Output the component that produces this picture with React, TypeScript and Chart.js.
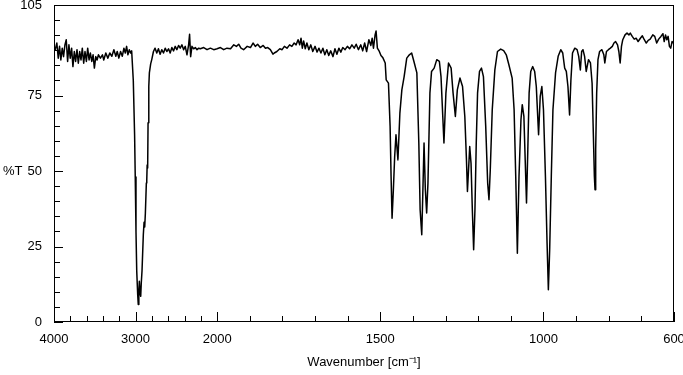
import React, { useEffect, useRef } from "react";
import { Chart, LineController, LineElement, PointElement, LinearScale } from "chart.js";

// ---- data (wavenumber in cm-1, transmittance in %T) ----
const WAVENUMBERS = [
  4000, 3985, 3965, 3948, 3932, 3916, 3899, 3883, 3866, 3850, 3833, 3817, 3801, 3784, 3768, 3751,
  3735, 3718, 3702, 3685, 3669, 3653, 3636, 3620, 3603, 3587, 3570, 3554, 3537, 3521, 3505, 3488,
  3472, 3455, 3431, 3406, 3390, 3365, 3340, 3316, 3291, 3266, 3242, 3225, 3205, 3184, 3163, 3143,
  3126, 3110, 3094, 3077, 3061, 3048,
  3028, 3012, 3004, 2995, 2986, 2974, 2967, 2960, 2954, 2945, 2937, 2930, 2921, 2905, 2896, 2888, 2880,
  2868, 2863, 2858, 2852, 2847, 2838, 2831, 2815, 2801,
  2781, 2761, 2740, 2720, 2699, 2679, 2658, 2637, 2617, 2596, 2576, 2555, 2535, 2514, 2494, 2473,
  2453, 2432, 2411, 2391, 2370, 2350, 2338, 2325, 2309, 2288, 2268, 2247, 2226, 2206, 2165, 2124,
  2083, 2042, 2001, 1990, 1980, 1970, 1959, 1949, 1941, 1934, 1927, 1919, 1908, 1898,
  1890, 1883, 1876, 1868, 1859, 1852, 1845, 1837, 1829, 1825, 1817, 1808, 1801, 1794, 1786, 1778,
  1771, 1764, 1758, 1752, 1747, 1743, 1739, 1735, 1730, 1725, 1719, 1713, 1707, 1700, 1694, 1688,
  1682, 1676, 1670, 1664, 1658, 1652, 1645, 1639, 1633, 1627, 1621, 1615, 1608, 1601, 1594, 1587,
  1580, 1574, 1567, 1560, 1554, 1548, 1542, 1535, 1529, 1525, 1521, 1516, 1513, 1509, 1503, 1498,
  1492, 1485, 1482, 1475, 1470, 1467, 1464, 1460, 1456, 1452, 1446, 1440, 1434, 1427, 1419, 1411,
  1404, 1397, 1388, 1382, 1378, 1373, 1370, 1366, 1362, 1358, 1354, 1348, 1343, 1335, 1327, 1319,
  1314, 1305, 1299, 1291, 1283, 1277, 1270, 1264, 1256, 1248, 1241, 1236, 1233, 1226, 1222, 1218,
  1214, 1210, 1206, 1202, 1196, 1190, 1184, 1177, 1171, 1167, 1163, 1157, 1149, 1141, 1131, 1122,
  1114, 1106, 1096, 1090, 1085, 1080, 1075, 1069, 1065, 1060, 1056, 1052, 1048, 1044, 1039, 1033,
  1027, 1022, 1015, 1010, 1005, 1000, 994, 989, 985, 981, 976, 971, 963, 955, 947, 941,
  935, 930, 925, 920, 916, 911, 904, 897, 892, 887, 883, 879, 874, 869, 862, 856,
  851, 847, 844, 842, 840, 837, 833, 828, 821, 815, 812, 807, 801, 795, 789, 784,
  779, 773, 769, 765, 761, 757, 750, 744, 738, 734, 728, 722, 716, 710, 703, 697,
  691, 685, 679, 673, 665, 659, 653, 647, 640, 634, 630, 626, 622, 618, 614, 610,
  606, 602, 600,
];

const TRANSMITTANCE = [
  90.0, 90.2, 92.4, 87.4, 91.3, 86.8, 90.7, 87.9, 91.8, 93.5, 86.3, 91.8, 87.4, 90.7, 84.6, 89.6,
  86.3, 90.2, 85.7, 89.6, 86.8, 90.7, 85.7, 89.6, 86.3, 90.7, 86.8, 89.1, 86.3, 88.5, 84.1, 87.9,
  86.8, 88.5, 87.4, 88.5, 86.8, 89.1, 87.4, 89.1, 88.0, 90.2, 88.0, 89.6, 87.4, 89.6, 88.0, 90.7,
  89.1, 91.3, 88.5, 90.2, 89.1, 89.8,
  80.0, 62.0, 48.0, 30.0, 17.0, 9.0, 5.8, 10.0, 13.5, 9.5, 8.5, 13.0, 17.0, 29.0, 33.0, 31.5, 36.0,
  46.0, 47.0, 52.0, 51.0, 66.0, 78.0, 82.5, 85.5, 87.0,
  89.6, 90.7, 89.1, 90.5, 88.7, 90.2, 89.1, 90.7, 89.6, 90.5, 89.1, 90.9, 89.8, 91.3, 90.2, 91.6,
  90.7, 91.8, 90.2, 91.3, 88.5, 91.8, 95.3, 87.9, 91.3, 90.5, 90.9, 90.2, 90.7, 90.5, 90.9, 90.2,
  90.7, 90.2, 90.5, 90.9, 90.2, 90.7, 90.5, 91.8, 91.3, 92.0, 90.7, 90.2, 91.3, 90.9,
  92.4, 91.3, 92.0, 90.9, 91.6, 90.7, 90.9, 90.2, 88.7, 89.1, 89.6, 90.5, 90.2, 91.3, 90.7, 91.8,
  91.3, 92.4, 91.8, 93.5, 91.8, 94.0, 90.7, 93.1, 90.5, 92.4, 90.2, 91.8, 89.6, 91.3, 89.4, 90.7,
  89.1, 90.7, 88.5, 90.2, 88.3, 89.8, 87.9, 90.5, 88.7, 90.7, 89.4, 90.9, 90.2, 91.3, 90.5, 91.8,
  90.7, 92.0, 90.2, 91.8, 89.8, 92.4, 89.6, 93.5, 91.6, 94.0, 90.7, 95.1, 96.4, 90.7, 89.6, 88.3,
  87.5, 85.8, 80.2, 79.1, 64.8, 48.2, 34.4, 43.8, 54.8, 62.0, 53.7, 69.2, 76.9, 81.3, 87.4, 88.5,
  89.1, 86.3, 82.5, 59.3, 37.2, 28.9, 41.6, 59.3, 43.8, 36.1, 46.0, 75.8, 83.0, 84.1, 86.9, 86.3,
  81.3, 59.3, 75.8, 85.8, 84.1, 75.8, 68.1, 76.9, 80.8, 78.0, 68.0, 53.7, 43.2, 58.1, 52.6, 37.2,
  23.9, 37.2, 59.3, 75.8, 83.0, 84.1, 81.3, 64.8, 46.0, 40.5, 50.4, 70.3, 83.5, 89.6, 90.4, 89.9,
  88.5, 85.2, 80.8, 70.3, 48.2, 22.8, 48.2, 67.0, 72.0, 68.1, 53.7, 39.4, 57.1, 75.8, 83.0, 84.6,
  83.0, 78.0, 62.0, 74.7, 78.0, 70.3, 48.2, 26.2, 10.7, 23.9, 48.2, 70.3, 82.5, 88.0, 90.2, 89.1,
  84.1, 83.0, 78.0, 68.6, 80.0, 89.1, 90.7, 90.2, 88.0, 83.5, 89.6, 90.2, 88.0, 83.0, 86.9, 85.8,
  79.1, 61.5, 48.2, 43.8, 57.1, 75.8, 86.9, 89.6, 90.2, 88.5, 85.8, 89.6, 90.2, 90.7, 91.3, 92.4,
  92.9, 91.8, 89.6, 85.8, 91.3, 93.5, 95.1, 95.7, 95.1, 95.7, 94.6, 93.7, 94.0, 92.9, 94.0, 94.8,
  93.5, 92.4, 93.3, 93.7, 95.1, 94.6, 92.4, 93.7, 94.6, 95.5, 92.9, 95.1, 93.5, 94.6, 91.3, 90.7,
  92.9, 92.4, 92.4,
];

// ---- axis ticks ----
const X_LABEL_TICKS = [4000, 3000, 2000, 1500, 1000, 600];
const X_MINOR_TICKS = [3800, 3600, 3400, 3200, 2800, 2600, 2400, 2200, 1900, 1800, 1700, 1600, 1400, 1300, 1200, 1100, 900, 800, 700];
const Y_LABEL_TICKS = [0, 25, 50, 75, 105];
const Y_MINOR_TICKS = [5, 10, 15, 20, 30, 35, 40, 45, 55, 60, 65, 70, 80, 85, 90, 95, 100];

const X_MAX = 4000;
const X_MIN = 600;
const X_BREAK = 2000;
const HIGH_RANGE_COMPRESSION = 4; // region above the break is drawn 4x compressed

const FONT_FAMILY = "'Liberation Sans', Arial, Helvetica, sans-serif";

// Linear scale with the usual IR scale change at 2000 cm-1 (reversed axis)
class BrokenWavenumberScale extends LinearScale {
  static id = "brokenWavenumber";
  static defaults = {};
  toUnits(v: number) {
    return v >= X_BREAK
      ? (X_MAX - v) / HIGH_RANGE_COMPRESSION
      : (X_MAX - X_BREAK) / HIGH_RANGE_COMPRESSION + (X_BREAK - v);
  }
  getPixelForValue(value: number) {
    const total = this.toUnits(X_MIN);
    return this.left + (this.toUnits(value) / total) * this.width;
  }
  getValueForPixel(pixel: number) {
    const total = this.toUnits(X_MIN);
    const u = ((pixel - this.left) / this.width) * total;
    const breakU = (X_MAX - X_BREAK) / HIGH_RANGE_COMPRESSION;
    return u <= breakU ? X_MAX - u * HIGH_RANGE_COMPRESSION : X_BREAK - (u - breakU);
  }
}

Chart.register(LineController, LineElement, PointElement, LinearScale, BrokenWavenumberScale);

const decorPlugin = {
  id: "irDecor",
  afterDraw(chart: any) {
    const { ctx, chartArea: a, scales } = chart;
    const x = scales.x;
    const y = scales.y;
    ctx.save();
    ctx.strokeStyle = "#000";
    ctx.lineWidth = 1;
    ctx.strokeRect(a.left + 0.5, a.top + 0.5, a.right - a.left - 1, a.bottom - a.top - 1);
    ctx.beginPath();
    for (const w of X_LABEL_TICKS) {
      const px = Math.round(x.getPixelForValue(w)) + 0.5;
      ctx.moveTo(px, a.bottom);
      ctx.lineTo(px, a.bottom - 10);
    }
    for (const w of X_MINOR_TICKS) {
      const px = Math.round(x.getPixelForValue(w)) + 0.5;
      ctx.moveTo(px, a.bottom);
      ctx.lineTo(px, a.bottom - 6);
    }
    for (const t of Y_LABEL_TICKS) {
      const py = Math.round(y.getPixelForValue(t)) + 0.5;
      ctx.moveTo(a.left, py);
      ctx.lineTo(a.left + 9, py);
    }
    for (const t of Y_MINOR_TICKS) {
      const py = Math.round(y.getPixelForValue(t)) + 0.5;
      ctx.moveTo(a.left, py);
      ctx.lineTo(a.left + 6, py);
    }
    ctx.stroke();
    ctx.fillStyle = "#000";
    ctx.font = `13px ${FONT_FAMILY}`;
    ctx.textAlign = "left";
    ctx.textBaseline = "middle";
    ctx.fillText("%T", 3, y.getPixelForValue(50));
    ctx.restore();
  },
};

export default function App() {
  const canvasRef = useRef<HTMLCanvasElement | null>(null);

  useEffect(() => {
    document.body.style.margin = "0";
    const canvas = canvasRef.current;
    if (!canvas) return;
    const points = WAVENUMBERS.map((w, i) => ({ x: w, y: TRANSMITTANCE[i] }));
    const chart = new Chart(canvas, {
      type: "line",
      data: {
        datasets: [
          {
            data: points,
            borderColor: "#000",
            borderWidth: 1.5,
            borderJoinStyle: "round",
            borderCapStyle: "round",
            pointRadius: 0,
            tension: 0,
            fill: false,
          },
        ],
      },
      options: {
        animation: false,
        responsive: true,
        maintainAspectRatio: false,
        events: [],
        layout: { padding: { top: 5, right: 9, left: 0, bottom: 0 } },
        plugins: { legend: { display: false }, tooltip: { enabled: false } },
        scales: {
          x: {
            type: "brokenWavenumber" as any,
            min: X_MIN,
            max: X_MAX,
            grid: { display: false, drawTicks: false },
            border: { display: false },
            afterBuildTicks: (s: any) => {
              s.ticks = X_LABEL_TICKS.map((v) => ({ value: v }));
            },
            afterFit: (s: any) => {
              s.height = 53;
              s.paddingLeft = 0;
              s.paddingRight = 0;
            },
            ticks: {
              autoSkip: false,
              maxRotation: 0,
              padding: 10,
              color: "#000",
              font: { family: FONT_FAMILY, size: 13 },
              callback: (v: any) => String(v),
            },
            title: {
              display: true,
              text: "Wavenumber [cm⁻¹]",
              color: "#000",
              font: { family: FONT_FAMILY, size: 13 },
              padding: { top: 0, bottom: 5 },
            },
          } as any,
          y: {
            type: "linear",
            min: 0,
            max: 105,
            grid: { display: false, drawTicks: false },
            border: { display: false },
            afterBuildTicks: (s: any) => {
              s.ticks = Y_LABEL_TICKS.map((v) => ({ value: v }));
            },
            afterFit: (s: any) => {
              s.width = 54;
              s.paddingTop = 0;
              s.paddingBottom = 0;
            },
            ticks: {
              padding: 12,
              color: "#000",
              font: { family: FONT_FAMILY, size: 13 },
              callback: (v: any) => String(v),
            },
          },
        },
      },
      plugins: [decorPlugin],
    });
    return () => chart.destroy();
  }, []);

  return (
    <div style={{ position: "fixed", left: 0, top: 0, width: 683, height: 375 }}>
      <canvas ref={canvasRef} />
    </div>
  );
}
